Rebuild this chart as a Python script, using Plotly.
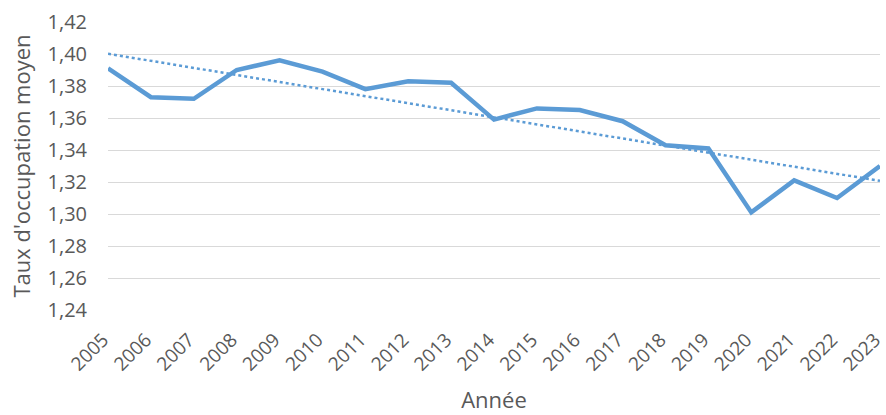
import numpy as np
import plotly.graph_objects as go

years = list(range(2005, 2024))
taux = [1.391, 1.373, 1.372, 1.390, 1.396, 1.389, 1.378, 1.383, 1.382, 1.359,
        1.366, 1.365, 1.358, 1.343, 1.341, 1.301, 1.321, 1.310, 1.330]
y_ticks = [1.24, 1.26, 1.28, 1.30, 1.32, 1.34, 1.36, 1.38, 1.40, 1.42]

blue = "#5B9BD5"
grey_text = "#595959"
font_family = "Open Sans"

slope, intercept = np.polyfit(years, taux, 1)
trend = [slope * yr + intercept for yr in years]

fig = go.Figure()
fig.add_trace(go.Scatter(x=years, y=trend, mode="lines",
                         line=dict(color=blue, width=2.5, dash="dot"),
                         showlegend=False, hoverinfo="skip"))
fig.add_trace(go.Scatter(x=years, y=taux, mode="lines",
                         line=dict(color=blue, width=4.5),
                         showlegend=False))

fig.update_layout(
    width=886, height=415,
    margin=dict(l=108, r=6, t=22, b=105),
    paper_bgcolor="white", plot_bgcolor="white",
    separators=", ",
    font=dict(family=font_family, color=grey_text, size=20),
    xaxis=dict(
        range=[2004.999, 2023.001], tickmode="array", tickvals=years,
        ticktext=[str(y) for y in years], tickangle=-45,
        tickfont=dict(size=19),
        showgrid=False, zeroline=False, showline=False, ticks="",
        ticklabelstandoff=14, ticklabelshift=-5,
        automargin=False, ticklabeloverflow="allow",
        title=dict(text="Année", font=dict(size=22, color=grey_text), standoff=17),
    ),
    yaxis=dict(
        range=[1.24, 1.42], tickmode="array", tickvals=y_ticks,
        tickformat=".2f", showgrid=True, gridcolor="#D9D9D9", gridwidth=1.3,
        zeroline=False, showline=False, ticks="", ticklabelstandoff=20,
        automargin=False,
        title=dict(text="Taux d'occupation moyen", font=dict(size=22, color=grey_text), standoff=10),
    ),
)

fig.write_html("out.html", post_script="document.body.style.margin='0px';",
               config={"displayModeBar": False})
